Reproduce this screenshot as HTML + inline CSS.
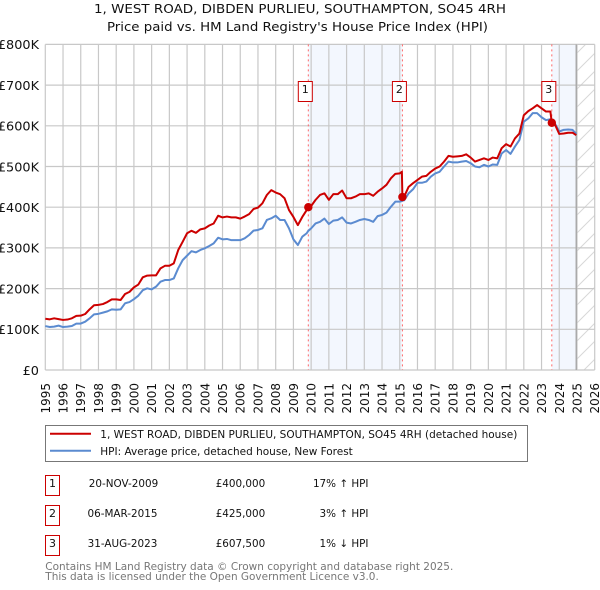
<!DOCTYPE html>
<html lang="en">
<head>
<meta charset="utf-8">
<title>1, WEST ROAD, DIBDEN PURLIEU price paid vs HPI</title>
<style>
  html, body { margin: 0; padding: 0; background: #fff; }
  svg { display: block; }
  text { font-family: "DejaVu Sans", "Liberation Sans", sans-serif; fill: #111; }
  .tick { font-size: 12px; }
  .title { font-size: 12px; }
  .small { font-size: 10.4px; }
  .num { font-size: 11px; }
  .foot { font-size: 10.4px; fill: #777; }
</style>
</head>
<body>
<svg id="chart" width="600" height="590" viewBox="0 0 600 590" xmlns="http://www.w3.org/2000/svg">
  <defs>
    <pattern id="hatch" width="18" height="18" patternUnits="userSpaceOnUse">
      <path d="M-2 20 L20 -2 M-2 2 L2 -2 M16 20 L20 16" stroke="#d8d8d8" stroke-width="1" fill="none"/>
    </pattern>
  </defs>

  <text class="title" x="94" y="13" textLength="412" lengthAdjust="spacingAndGlyphs">1, WEST ROAD, DIBDEN PURLIEU, SOUTHAMPTON, SO45 4RH</text>
  <text class="title" x="107" y="31" textLength="381" lengthAdjust="spacingAndGlyphs">Price paid vs. HM Land Registry's House Price Index (HPI)</text>

  <g id="bands"></g>
  <g id="grid"></g>
  <g id="yLabels"></g>
  <g id="xLabels"></g>
  <g id="saleLines"></g>
  <g id="series"></g>
  <g id="saleMarks"></g>

  <g>
    <rect x="45.5" y="425.5" width="482" height="36" fill="#fff" stroke="#777" stroke-width="1"/>
    <line x1="50" y1="433.7" x2="91" y2="433.7" stroke="#cc0000" stroke-width="2"/>
    <text class="small" x="100.3" y="438" textLength="417" lengthAdjust="spacingAndGlyphs">1, WEST ROAD, DIBDEN PURLIEU, SOUTHAMPTON, SO45 4RH (detached house)</text>
    <line x1="50" y1="450.7" x2="91" y2="450.7" stroke="#5b8bd0" stroke-width="2"/>
    <text class="small" x="100.3" y="455" textLength="252.5" lengthAdjust="spacingAndGlyphs">HPI: Average price, detached house, New Forest</text>
  </g>

  <g>
    <rect x="45.5" y="475.5" width="14" height="20" fill="#fff" stroke="#cc0000"/>
    <text class="num" x="52.5" y="487" text-anchor="middle">1</text>
    <text class="small" x="123.5" y="487" text-anchor="middle">20-NOV-2009</text>
    <text class="small" x="215.7" y="487">£400,000</text>
    <text class="small" x="368.5" y="487" text-anchor="end">17% ↑ HPI</text>

    <rect x="45.5" y="505.5" width="14" height="20" fill="#fff" stroke="#cc0000"/>
    <text class="num" x="52.5" y="517" text-anchor="middle">2</text>
    <text class="small" x="122.5" y="517" text-anchor="middle">06-MAR-2015</text>
    <text class="small" x="215.7" y="517">£425,000</text>
    <text class="small" x="368.5" y="517" text-anchor="end">3% ↑ HPI</text>

    <rect x="45.5" y="535.5" width="14" height="20" fill="#fff" stroke="#cc0000"/>
    <text class="num" x="52.5" y="547" text-anchor="middle">3</text>
    <text class="small" x="122.5" y="547" text-anchor="middle">31-AUG-2023</text>
    <text class="small" x="215.7" y="547">£607,500</text>
    <text class="small" x="368.5" y="547" text-anchor="end">1% ↓ HPI</text>
  </g>

  <text class="foot" x="45.3" y="570" textLength="408" lengthAdjust="spacingAndGlyphs">Contains HM Land Registry data © Crown copyright and database right 2025.</text>
  <text class="foot" x="45.3" y="580" textLength="333.5" lengthAdjust="spacingAndGlyphs">This data is licensed under the Open Government Licence v3.0.</text>
</svg>

<script>
const yTickValues = [0, 100, 200, 300, 400, 500, 600, 700, 800];
const yTickLabels = ["£0", "£100K", "£200K", "£300K", "£400K", "£500K", "£600K", "£700K", "£800K"];
const xTickYears = [1995,1996,1997,1998,1999,2000,2001,2002,2003,2004,2005,2006,2007,2008,2009,2010,2011,2012,2013,2014,2015,2016,2017,2018,2019,2020,2021,2022,2023,2024,2025,2026];

const years = [
  1995,1995.25,1995.5,1995.75, 1996,1996.25,1996.5,1996.75, 1997,1997.25,1997.5,1997.75,
  1998,1998.25,1998.5,1998.75, 1999,1999.25,1999.5,1999.75, 2000,2000.25,2000.5,2000.75,
  2001,2001.25,2001.5,2001.75, 2002,2002.25,2002.5,2002.75, 2003,2003.25,2003.5,2003.75,
  2004,2004.25,2004.5,2004.75, 2005,2005.25,2005.5,2005.75, 2006,2006.25,2006.5,2006.75,
  2007,2007.25,2007.5,2007.75, 2008,2008.25,2008.5,2008.75, 2009,2009.25,2009.5,2009.75,2009.84,
  2010,2010.25,2010.5,2010.75, 2011,2011.25,2011.5,2011.75, 2012,2012.25,2012.5,2012.75,
  2013,2013.25,2013.5,2013.75, 2014,2014.25,2014.5,2014.75, 2015,2015.12,2015.15,2015.25,2015.5,2015.75,
  2016,2016.25,2016.5,2016.75, 2017,2017.25,2017.5,2017.75, 2018,2018.25,2018.5,2018.75,
  2019,2019.25,2019.5,2019.75, 2020,2020.25,2020.5,2020.75, 2021,2021.25,2021.5,2021.75,
  2022,2022.25,2022.5,2022.75, 2023,2023.25,2023.5,2023.58,2023.75, 2024,2024.25,2024.5,2024.75, 2024.96
];
const propertyValues = [
  126,124.5,127,125, 123,124,127,133, 133.5,137.6,149,159,
  160,162,167,173.6, 173.6,172,186.7,192, 203,210,227.7,232,
  232.6,232.6,249.8,256, 256,262,294.8,315, 336,342,337,345.6,
  348,355,360,379, 375,377,375,375, 372,377,383,395.6,
  399,409.5,430,442, 436,432,422,393, 376,356,376,393,400,
  403,418,430,434, 418,432,432,441, 422,422,426,432,
  432,434,428,438, 446,455,471,482, 483,487,425,426,450,459,
  467,475,477,487, 495,500,512,526, 524,525,526,530,
  522,512,516,520, 516,522,520,545, 555,549,569,581,
  626,636,643,651, 643,635,635,607.5,604, 580,581,583,583, 577
];
const hpiValues = [
  108,105.6,106.5,109, 105.6,106.5,108,114, 114,118.8,127,136.8,
  138,140.9,144,149, 148,149,163.8,167, 174,182.6,196,200.7,
  198,204.8,217,221, 221,225,249.8,270, 281,292,289,295,
  299,304.7,311,325, 321,322,319,319, 319,323.5,331.7,342.4,
  344,348,368.6,372.6, 379,368.6,368.6,348, 321,307,327.6,336,342,
  348,360,364,372, 358.7,367,368.6,375, 362,360,364,368.6,
  371,368.6,364,378, 381,386.6,401,413.6, 413.6,415,416,417,434,444,
  460,460,463,475, 483,487,500,512, 510,510,512,513.5,
  508,500,498,504, 500,505,504,532, 540.6,531,549,565,
  610,618,631,631, 621,614,616,610,606, 586,590,591,590, 580
];
const saleYears = [2009.84, 2015.15, 2023.58];
const salePrices = [400, 425, 607.5];
const saleNumbers = ["1", "2", "3"];
const dataEndYear = 2024.96;

const NS = "http://www.w3.org/2000/svg";
const plot = { left: 45.3, right: 594.7, top: 44.4, bottom: 370 };
function xScale(year) {
  return plot.left + (year - 1995) / (2026 - 1995) * (plot.right - plot.left);
}
function yScale(value) {
  return plot.bottom - value / 800 * (plot.bottom - plot.top);
}
function make(tag, attrs, parent) {
  const el = document.createElementNS(NS, tag);
  for (const k in attrs) el.setAttribute(k, attrs[k]);
  parent.appendChild(el);
  return el;
}
function pathFrom(xs, ys) {
  return xs.map((x, i) => (i ? "L" : "M") + xScale(x).toFixed(2) + " " + yScale(ys[i]).toFixed(2)).join(" ");
}

const bandsG = document.getElementById("bands");
const gridG = document.getElementById("grid");
const yG = document.getElementById("yLabels");
const xG = document.getElementById("xLabels");
const saleLinesG = document.getElementById("saleLines");
const seriesG = document.getElementById("series");
const saleMarksG = document.getElementById("saleMarks");

const bandA = make("rect", { x: xScale(saleYears[0]), y: plot.top, width: xScale(saleYears[1]) - xScale(saleYears[0]), height: plot.bottom - plot.top, fill: "#f3f7fe" }, bandsG);


const bandB = make("rect", { x: xScale(saleYears[2]), y: plot.top, width: xScale(dataEndYear) - xScale(saleYears[2]), height: plot.bottom - plot.top, fill: "#f3f7fe" }, bandsG);


const hatchRect = make("rect", { x: xScale(dataEndYear), y: plot.top, width: plot.right - xScale(dataEndYear), height: plot.bottom - plot.top, fill: "url(#hatch)" }, bandsG);



yTickValues.forEach((v, i) => {
  const line = make("line", { x1: plot.left, x2: plot.right, y1: yScale(v), y2: yScale(v), stroke: "#c8c8c8", "stroke-width": 1.2 }, gridG);
  
  
  const t = make("text", { class: "tick", x: 39, y: yScale(v) + 4.8, "text-anchor": "end" }, yG);
  
  
  t.textContent = yTickLabels[i];
  t.setAttribute("textLength", (t.getComputedTextLength() * 1.07).toFixed(2));
  t.setAttribute("lengthAdjust", "spacingAndGlyphs");
});
xTickYears.forEach((yr) => {
  const line = make("line", { x1: xScale(yr), x2: xScale(yr), y1: plot.top, y2: plot.bottom, stroke: "#c8c8c8", "stroke-width": 1.2 }, gridG);
  
  
  const bx = xScale(yr) + 4.5;
  const t = make("text", { class: "tick", x: bx, y: 383, "text-anchor": "end", transform: "rotate(-90 " + bx + " 383)" }, xG);
  
  
  t.textContent = String(yr);
});

const endLine = make("line", { x1: xScale(dataEndYear), x2: xScale(dataEndYear), y1: plot.top, y2: plot.bottom, stroke: "#aaaaaa", "stroke-width": 1.5 }, gridG);



saleYears.forEach((yr) => {
  const line = make("line", { x1: xScale(yr), x2: xScale(yr), y1: plot.top, y2: plot.bottom, stroke: "#ff6666", "stroke-width": 1, "stroke-dasharray": "2 3" }, saleLinesG);
  
  
});

const hpiPath = make("path", { d: pathFrom(years, hpiValues), fill: "none", stroke: "#5b8bd0", "stroke-width": 2, "stroke-linejoin": "round" }, seriesG);


const propPath = make("path", { d: pathFrom(years, propertyValues), fill: "none", stroke: "#cc0000", "stroke-width": 2, "stroke-linejoin": "round" }, seriesG);



saleYears.forEach((yr, i) => {
  const dot = make("circle", { cx: xScale(yr), cy: yScale(salePrices[i]), r: 4.2, fill: "#cc0000" }, saleMarksG);
  
  
  const box = make("rect", { x: xScale(yr) - 10, y: 81.5, width: 14, height: 20, fill: "#fff", stroke: "#cc0000", "stroke-width": 1 }, saleMarksG);
  
  
  const label = make("text", { class: "num", x: xScale(yr) - 3, y: 93, "text-anchor": "middle" }, saleMarksG);
  
  
  label.textContent = saleNumbers[i];
});
</script>
</body>
</html>
